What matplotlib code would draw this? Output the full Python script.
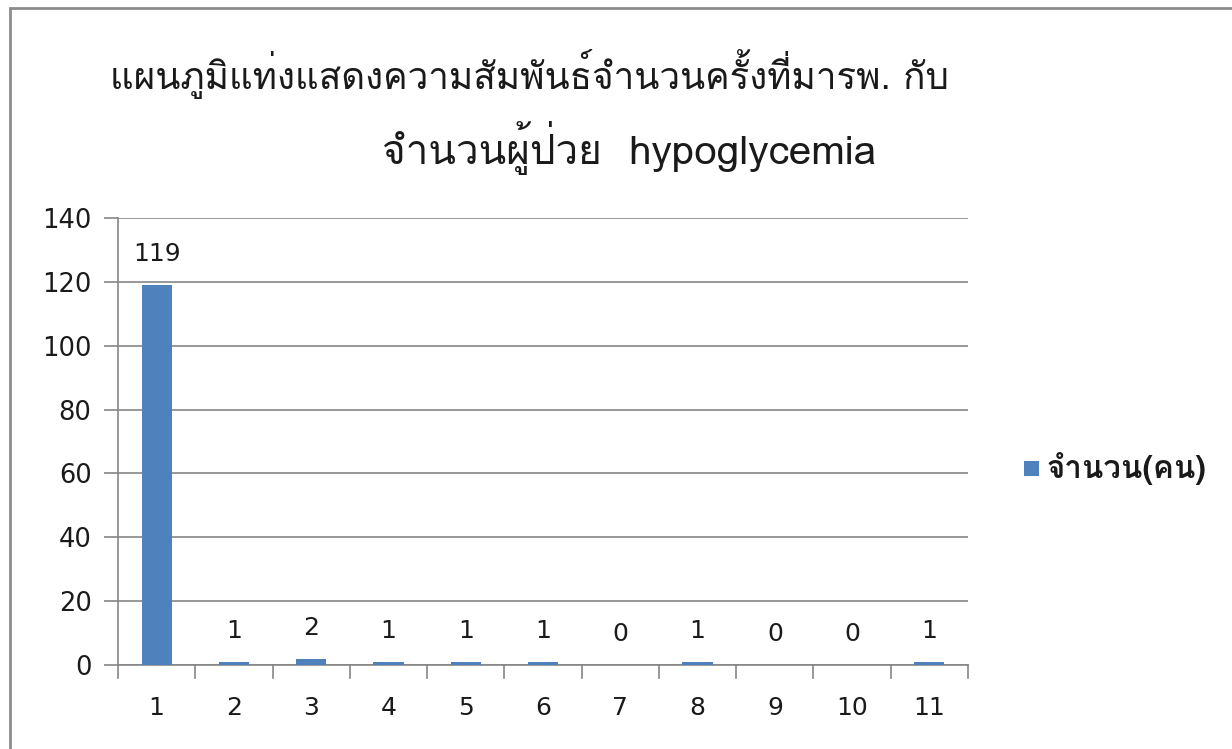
import matplotlib
matplotlib.use("Agg")
import matplotlib.pyplot as plt
from matplotlib import font_manager
from matplotlib.ft2font import FT2Font
from matplotlib.patches import Rectangle

categories = ["1", "2", "3", "4", "5", "6", "7", "8", "9", "10", "11"]
counts = [119, 1, 2, 1, 1, 1, 0, 1, 0, 0, 1]
series_name = "จำนวน(คน)"
title_lines = ["แผนภูมิแท่งแสดงความสัมพันธ์จำนวนครั้งที่มารพ. กับ",
               "จำนวนผู้ป่วย  hypoglycemia"]
y_ticks = [0, 20, 40, 60, 80, 100, 120, 140]


def thai_families():
    found = []
    for f in font_manager.fontManager.ttflist:
        try:
            cmap = FT2Font(f.fname).get_charmap()
        except Exception:
            continue
        if 0x0E08 in cmap and f.name not in found:
            found.append(f.name)
    return found


thai = thai_families()
text_fonts = thai + ["DejaVu Sans"]
num_fonts = ["DejaVu Sans"] + thai
plt.rcParams["font.family"] = num_fonts

W, H = 1232, 749
fig = plt.figure(figsize=(W / 100, H / 100), dpi=100)
fig.patch.set_facecolor("white")
renderer = fig.canvas.get_renderer()


def fit_text(x0, x1, y, s, size, **kw):
    """Place text with its left edge at x0 and scale it to end at x1 (pixels)."""
    t = fig.text(x0 / W, 1 - y / H, s, ha="left", va="center", fontsize=size, **kw)
    w = t.get_window_extent(renderer).width
    t.set_fontsize(size * (x1 - x0) / w)
    return t


# outer chart frame
fig.add_artist(Rectangle((10 / W, -0.05), 1.2, 1 - 8 / H + 0.05,
                         transform=fig.transFigure, fill=False,
                         edgecolor="#8c8c8c", linewidth=2))

left, right, top, bottom = 118, 968, 218, 665
ax = fig.add_axes([left / W, 1 - bottom / H, (right - left) / W, (bottom - top) / H])

x = list(range(len(categories)))
ax.bar(x, counts, width=0.39, color="#4F81BD", zorder=3, label=series_name)
ax.set_xlim(-0.5, len(categories) - 0.5)
ax.set_ylim(0, 140)
ax.set_yticks(y_ticks)
ax.set_xticks(x)
ax.set_xticklabels(categories)
ax.yaxis.grid(True, color="#868686", linewidth=1.2, zorder=0)

for s in ["top", "right"]:
    ax.spines[s].set_visible(False)
for s in ["left", "bottom"]:
    ax.spines[s].set_color("#868686")
    ax.spines[s].set_linewidth(1.2)

ax.tick_params(axis="y", length=10, color="#868686", width=1.2, labelsize=18.5,
               pad=9, labelcolor="#1a1a1a")
ax.tick_params(axis="x", length=0, labelsize=18, pad=22, labelcolor="#1a1a1a")

# category boundary ticks on the x axis
for b in [i - 0.5 for i in range(len(categories) + 1)]:
    ax.plot([b, b], [0, -4], color="#868686", linewidth=1.2, clip_on=False, zorder=4)

for xi, v in zip(x, counts):
    ax.annotate(str(v), (xi, v), xytext=(0, 22), textcoords="offset points",
                ha="center", va="center", fontsize=18, color="#1a1a1a")

fig.text(529 / W, 1 - 74 / H, title_lines[0], ha="center", va="center",
         fontsize=26.5, family=text_fonts, color="#1a1a1a")
fit_text(382, 876, 148, title_lines[1], 26, family=text_fonts, color="#1a1a1a")

# legend
fig.add_artist(Rectangle((1024 / W, 1 - 476 / H), 15 / W, 15 / H,
                         transform=fig.transFigure, facecolor="#4F81BD", edgecolor="none"))
fit_text(1046, 1205, 468, series_name, 17, family=text_fonts,
         fontweight="bold", color="#1a1a1a")

fig.savefig("out.png", dpi=100)
